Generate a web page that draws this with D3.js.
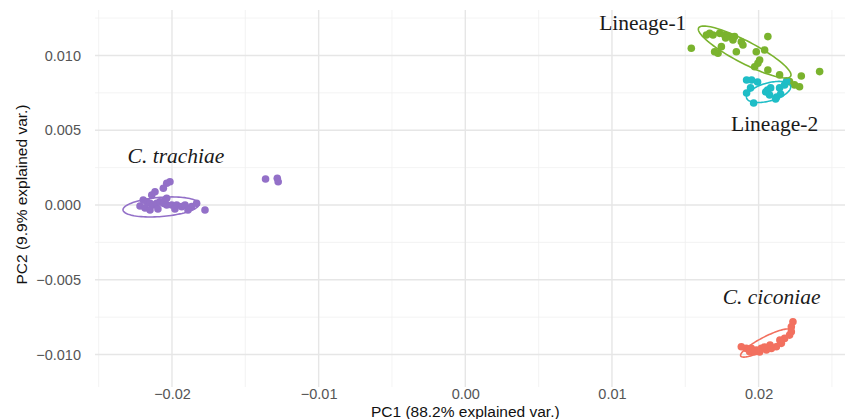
<!DOCTYPE html>
<html>
<head>
<meta charset="utf-8">
<script src="https://cdn.jsdelivr.net/npm/d3@7"></script>
<style>
  body { margin: 0; background: #fff; }
  svg { display: block; }
</style>
</head>
<body>
<div class="container"></div>
<script>
var svgWidth = 847;
var svgHeight = 419;

// PCA scores, [PC1, PC2]
var trachiaePts = [
    [-0.02014, 0.00156], [-0.02036, 0.00145], [-0.02059, 0.00112], [-0.02116, 0.00089],
    [-0.02138, 0.00067], [-0.02196, 0.00033], [-0.02172, 0.00022], [-0.02150, 0.00011],
    [-0.02127, 0.00000], [-0.02104, 0.00011], [-0.02082, 0.00022], [-0.02059, 0.00011],
    [-0.02036, 0.00000], [-0.02002, 0.00000], [-0.01968, 0.00000], [-0.01934, -0.00011],
    [-0.01911, 0.00000], [-0.01866, -0.00011], [-0.01832, 0.00011], [-0.01775, -0.00033],
    [-0.02048, 0.00033], [-0.02036, 0.00045], [-0.02218, -0.00007], [-0.02184, -0.00020],
    [-0.02150, -0.00033], [-0.02096, -0.00027], [-0.01980, -0.00027], [-0.01891, -0.00033],
    [-0.01362, 0.00174], [-0.01282, 0.00179], [-0.01276, 0.00156]
];
var ciconiaePts = [
    [0.02234, -0.00781], [0.02223, -0.00814], [0.02223, -0.00847], [0.02211, -0.00870],
    [0.02177, -0.00892], [0.02155, -0.00925], [0.02121, -0.00948], [0.02087, -0.00959],
    [0.02053, -0.00970], [0.02018, -0.00959], [0.01984, -0.00970], [0.01950, -0.00959],
    [0.01916, -0.00959], [0.01882, -0.00948], [0.01939, -0.00981], [0.01973, -0.00981],
    [0.02078, -0.00936], [0.02145, -0.00903], [0.02007, -0.00983], [0.02041, -0.00950]
];
var lineage1Pts = [
    [0.01541, 0.01048], [0.01644, 0.01137], [0.01666, 0.01148], [0.01689, 0.01137],
    [0.01734, 0.01148], [0.01768, 0.01137], [0.01802, 0.01126], [0.01825, 0.01104],
    [0.01836, 0.01126], [0.01882, 0.01092], [0.01893, 0.01070], [0.02063, 0.01126],
    [0.01746, 0.01059], [0.01723, 0.01015], [0.01700, 0.01025], [0.01848, 0.01025],
    [0.01984, 0.01025], [0.02041, 0.01037], [0.01995, 0.00948], [0.01973, 0.00925],
    [0.02063, 0.00903], [0.02143, 0.00870], [0.02211, 0.00825], [0.02291, 0.00863],
    [0.02279, 0.00791], [0.02245, 0.00803], [0.02416, 0.00892], [0.02007, 0.00970],
    [0.01775, 0.01117]
];
var lineage2Pts = [
    [0.01918, 0.00836], [0.01952, 0.00836], [0.01993, 0.00823], [0.01945, 0.00783],
    [0.01918, 0.00749], [0.01966, 0.00682], [0.02061, 0.00769], [0.02082, 0.00783],
    [0.02048, 0.00756], [0.02123, 0.00722], [0.02150, 0.00742], [0.02143, 0.00783],
    [0.02177, 0.00803], [0.02191, 0.00829], [0.02116, 0.00709], [0.02075, 0.00736]
];

// ellipses: centre, major half-axis vector, minor half-axis vector (data units)
var ellipseCentres = [[-0.02075, -0.00013], [0.02048, -0.00923], [0.01905, 0.01023], [0.02068, 0.00756]];
var ellipseMajor = [[0.00259, 0.00020], [0.00170, 0.00087], [0.00314, -0.00161], [0.00150, 0.00040]];
var ellipseMinor = [[0.00005, -0.00064], [0.00019, -0.00036], [-0.00035, -0.00065], [0.00016, -0.00058]];

var groupNames = ["C. trachiae", "C. ciconiae", "Lineage-1", "Lineage-2"];
var groupColors = ["#9370C8", "#F2705F", "#7AB32E", "#1EBDC6"];
var groupPts = [trachiaePts, ciconiaePts, lineage1Pts, lineage2Pts];

// label anchors (text centre, baseline) in data units
var labelPos = [[-0.01973, 0.00281], [0.02089, -0.00662], [0.01210, 0.01170], [0.02109, 0.00495]];
var labelItalic = [true, true, false, false];

var xTicks = [-0.02, -0.01, 0.00, 0.01, 0.02];
var yTicks = [-0.010, -0.005, 0.000, 0.005, 0.010];
var xMinor = [-0.025, -0.015, -0.005, 0.005, 0.015, 0.025];
var yMinor = [-0.0075, -0.0025, 0.0025, 0.0075, 0.0125];

var xTitle = "PC1 (88.2% explained var.)";
var yTitle = "PC2 (9.9% explained var.)";

var chartMargin = { top: 10, bottom: 32, left: 95, right: 2 };
var chartWidth = svgWidth - (chartMargin.left + chartMargin.right);
var chartHeight = svgHeight - (chartMargin.top + chartMargin.bottom);

var svg = d3.select(".container")
    .append("svg")
    .attr("width", svgWidth)
    .attr("height", svgHeight)
    .style("font-family", "'Liberation Sans', Arial, sans-serif");

var chartGroup = svg.append("g")
    .attr("transform", `translate(${chartMargin.left}, ${chartMargin.top})`);

var xScale = d3.scaleLinear()
    .domain([-0.02525, 0.02589])
    .range([0, chartWidth]);

var yScale = d3.scaleLinear()
    .domain([-0.01217, 0.01304])
    .range([chartHeight, 0]);

// grid
chartGroup.selectAll(".xminor").data(xMinor).enter().append("line")
    .attr("x1", d => xScale(d)).attr("x2", d => xScale(d))
    .attr("y1", 0).attr("y2", chartHeight)
    .attr("stroke", "#f0f0f0").attr("stroke-width", 0.8);
chartGroup.selectAll(".yminor").data(yMinor).enter().append("line")
    .attr("x1", 0).attr("x2", chartWidth)
    .attr("y1", d => yScale(d)).attr("y2", d => yScale(d))
    .attr("stroke", "#f0f0f0").attr("stroke-width", 0.8);
chartGroup.selectAll(".xmajor").data(xTicks).enter().append("line")
    .attr("x1", d => xScale(d)).attr("x2", d => xScale(d))
    .attr("y1", 0).attr("y2", chartHeight)
    .attr("stroke", "#e6e6e6").attr("stroke-width", 1.4);
chartGroup.selectAll(".ymajor").data(yTicks).enter().append("line")
    .attr("x1", 0).attr("x2", chartWidth)
    .attr("y1", d => yScale(d)).attr("y2", d => yScale(d))
    .attr("stroke", "#e6e6e6").attr("stroke-width", 1.4);

// axes, labels only
var bottomAxis = d3.axisBottom(xScale).tickValues(xTicks).tickSize(0).tickPadding(2)
    .tickFormat(d3.format(".2f"));
var leftAxis = d3.axisLeft(yScale).tickValues(yTicks).tickSize(0).tickPadding(14)
    .tickFormat(d3.format(".3f"));

var xAxisG = chartGroup.append("g")
    .attr("transform", `translate(0, ${chartHeight})`)
    .call(bottomAxis);
var yAxisG = chartGroup.append("g").call(leftAxis);
[xAxisG, yAxisG].forEach(g => {
    g.select(".domain").remove();
    g.selectAll("text")
        .attr("fill", "#555")
        .style("font-size", "14.5px")
        .style("font-family", "'Liberation Sans', Arial, sans-serif");
});

svg.append("text")
    .attr("x", chartMargin.left + xScale(0))
    .attr("y", 417)
    .attr("text-anchor", "middle")
    .style("font-size", "15.5px")
    .attr("fill", "#111")
    .text(xTitle);

svg.append("text")
    .attr("transform", `translate(27, ${chartMargin.top + chartHeight / 2 - 4}) rotate(-90)`)
    .attr("text-anchor", "middle")
    .style("font-size", "15.5px")
    .attr("fill", "#111")
    .text(yTitle);

// points
groupPts.forEach((pts, i) => {
    chartGroup.selectAll(".pt" + i)
        .data(pts)
        .enter()
        .append("circle")
        .attr("cx", d => xScale(d[0]))
        .attr("cy", d => yScale(d[1]))
        .attr("r", 3.8)
        .attr("fill", groupColors[i]);
});

// ellipses
var line = d3.line()
    .x(d => xScale(d[0]))
    .y(d => yScale(d[1]))
    .curve(d3.curveLinearClosed);

ellipseCentres.forEach((c, i) => {
    var pts = d3.range(0, 100).map(k => {
        var t = k / 100 * 2 * Math.PI;
        return [
            c[0] + Math.cos(t) * ellipseMajor[i][0] + Math.sin(t) * ellipseMinor[i][0],
            c[1] + Math.cos(t) * ellipseMajor[i][1] + Math.sin(t) * ellipseMinor[i][1]
        ];
    });
    chartGroup.append("path")
        .attr("d", line(pts))
        .attr("fill", "none")
        .attr("stroke", groupColors[i])
        .attr("stroke-width", 1.6);
});

// group labels
chartGroup.selectAll(".grouplabel")
    .data(groupNames)
    .enter()
    .append("text")
    .attr("x", (d, i) => xScale(labelPos[i][0]))
    .attr("y", (d, i) => yScale(labelPos[i][1]))
    .attr("text-anchor", "middle")
    .style("font-family", "'Liberation Serif', 'Times New Roman', serif")
    .style("font-size", "21.5px")
    .style("font-style", (d, i) => labelItalic[i] ? "italic" : "normal")
    .attr("fill", "#1a1a1a")
    .text(d => d);
</script>
</body>
</html>
